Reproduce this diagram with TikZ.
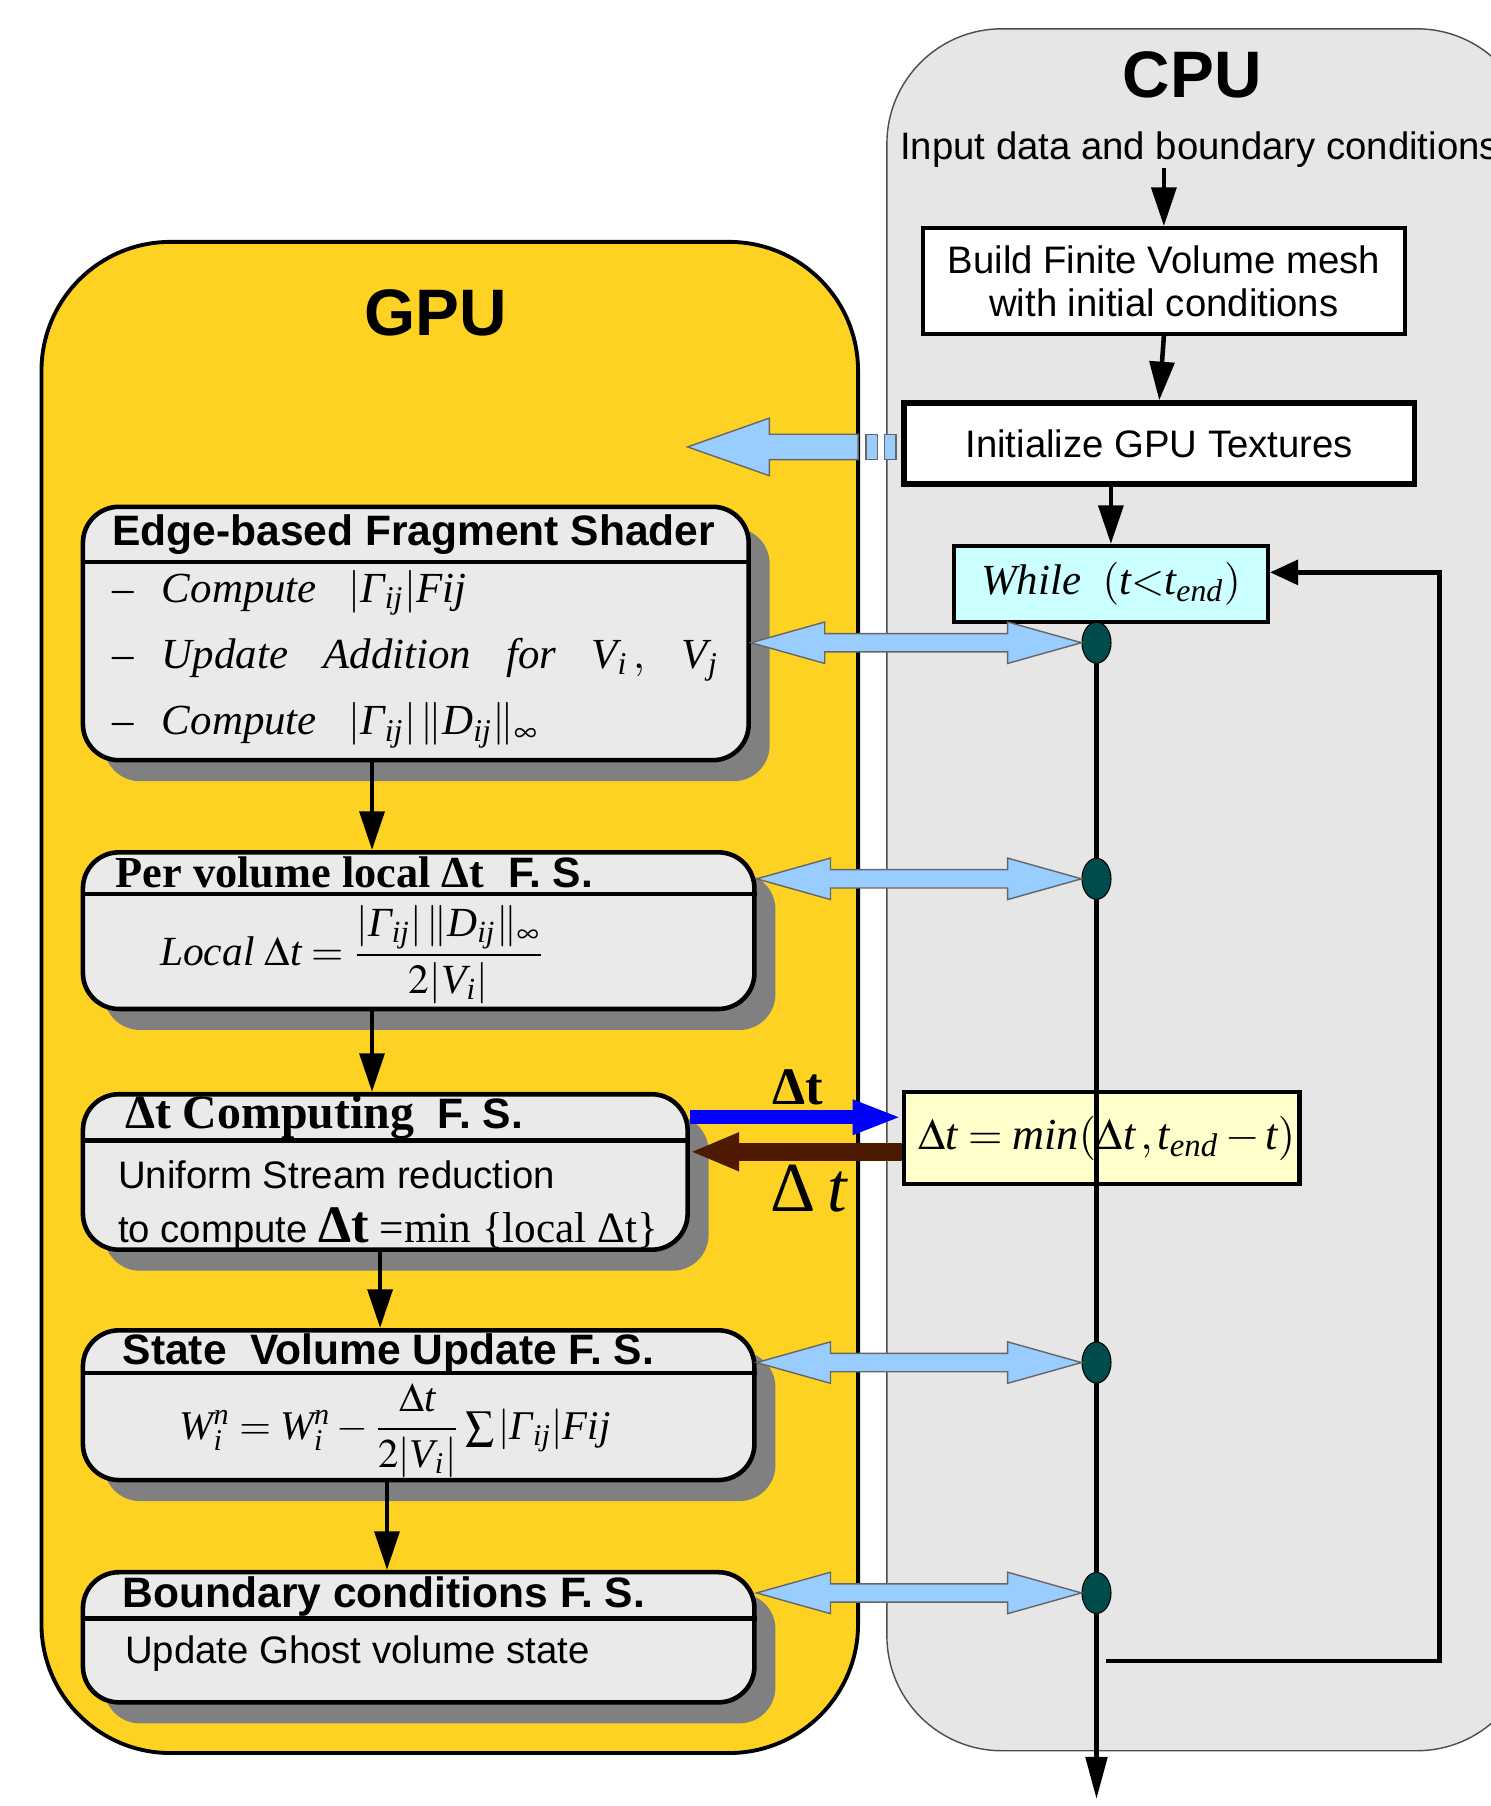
\documentclass[tikz,border=0pt]{standalone}
\usepackage{amsmath}
\usepackage{mathptmx}
\usepackage{fontspec}
\setmainfont{Liberation Serif}
\setsansfont{Liberation Sans}
\usetikzlibrary{arrows.meta,calc,fit,shapes.geometric,shadows}

\definecolor{ouro}{RGB}{253,210,35}
\definecolor{cinzacpu}{RGB}{230,230,230}
\definecolor{marmore}{RGB}{234,234,234}
\definecolor{azulclaro}{RGB}{153,204,255}
\definecolor{ciano}{RGB}{204,255,255}
\definecolor{amarelo}{RGB}{255,255,204}
\definecolor{marrom}{RGB}{77,25,0}
\definecolor{petroleo}{RGB}{0,76,76}

% letras "de formula" (Times italico)
\newcommand{\mi}[1]{\text{\rmfamily\itshape #1}}

% seta dupla larga entre dois pontos na horizontal
\newcommand{\dblarrow}[2]{%
  \draw[setadupla] let \p1=(#1), \p2=(#2) in
    (\x1,\y1) -- (\x1+21pt,\y1+5.9pt) -- (\x1+21pt,\y1+2.6pt) -- (\x2-21pt,\y1+2.6pt)
    -- (\x2-21pt,\y1+5.9pt) -- (\x2,\y1) -- (\x2-21pt,\y1-5.9pt) -- (\x2-21pt,\y1-2.6pt)
    -- (\x1+21pt,\y1-2.6pt) -- (\x1+21pt,\y1-5.9pt) -- cycle;}

\tikzset{
  tit/.style={font=\sffamily\bfseries\fontsize{12.1}{14}\selectfont, anchor=west, inner sep=0},
  corpo/.style={font=\sffamily\fontsize{10.9}{12.2}\selectfont},
  mt/.style={font=\rmfamily\itshape\fontsize{12.2}{14}\selectfont, anchor=west, inner sep=0},
  gpubox/.style={draw, line width=1.3pt, rounded corners=3.6mm, fill=marmore, inner sep=0,
    drop shadow={shadow xshift=2.1mm, shadow yshift=-2.1mm, fill=gray, opacity=1}},
  cpubox/.style={draw, line width=1.1pt, fill=white, inner sep=0},
  seta/.style={line width=1.3pt, -{Triangle[length=11pt,width=7pt]}},
  setadupla/.style={fill=azulclaro, draw=black!60, line width=0.4pt},
  ponto/.style={ellipse, draw=black, line width=0.3pt, fill=petroleo, minimum width=2.9mm,
    minimum height=4.1mm, inner sep=0},
}

\begin{document}
\begin{tikzpicture}[x=0.11515mm, y=-0.11515mm]

    \useasboundingbox (0,0) rectangle (1294,1568);

    % colunas das setas da GPU
    \coordinate (colA) at (323,0);
    \coordinate (colB) at (330,0);
    \coordinate (colC) at (336,0);

    % painel da GPU
    \node[draw, line width=1.1pt, fill=ouro, rounded corners=12.9mm, inner sep=0,
      fit={(36,210) (745,1522)}] (gpu) {};
    \node[font=\sffamily\bfseries\fontsize{18.7}{22}\selectfont] (gputit) at (378,272) {GPU};

    % painel da CPU
    \node[draw=black!70, line width=0.4pt, fill=cinzacpu, rounded corners=11.5mm, inner sep=0,
      fit={(770,25) (1330,1520)}] (cpu) {};
    \node[font=\sffamily\bfseries\fontsize{18.7}{22}\selectfont] (cputit) at (1035,65) {CPU};
    \node[corpo, anchor=west, inner sep=0] (entrada) at (781,130) {Input data and boundary conditions};

    % caixas da CPU
    \node[cpubox, fit={(801,198) (1220,290)}] (malha) {};
    \node[corpo, align=center] (malhatxt) at (malha.center) {Build Finite Volume mesh\\ with initial conditions};
    \node[cpubox, line width=1.6pt, fit={(785,350) (1228,420)}] (init) {};
    \node[corpo] (inittxt) at (init.center) {Initialize GPU Textures};
    \node[cpubox, fill=ciano, fit={(828,474) (1101,540)}] (while) {};
    \node[mt, anchor=center] (whiletxt) at (while.center)
      {$\mi{While}\ \ (\mi{t}{<}\mi{t}_{\mi{end}})$};
    \node[cpubox, fill=amarelo, line width=1.3pt, fit={(785,948) (1128,1028)}] (dtmin) {};
    \node[mt, anchor=center, font=\fontsize{12.6}{15}\selectfont] (dtmintxt) at ([xshift=1.5pt]dtmin.center)
      {$\Delta\mi{t}=\mi{min}(\Delta\mi{t}\,,\mi{t}_{\mi{end}}-\mi{t})$};

    \draw[seta] (malha.north |- entrada.south) -- (malha.north);
    \draw[seta] (malha.south) -- (init.north);
    \draw[seta] (init.south -| while.north) -- (while.north);

    % seta larga para a GPU
    \draw[setadupla] (745,377) -- (668,377) -- (668,363) -- (597,388) -- (668,413)
      -- (668,399) -- (745,399) -- cycle;
    \draw[setadupla] (752,377) rectangle (762,399);
    \draw[setadupla] (768,377) rectangle (778,399);

    % caixas da GPU
    \node[gpubox, fit={(72,440) (650,660)}] (edge) {};
    \node[gpubox, fit={(72,740) (655,876)}] (pervol) {};
    \node[gpubox, fit={(72,950) (597,1085)}] (reduz) {};
    \node[gpubox, fit={(72,1155) (655,1285)}] (state) {};
    \node[gpubox, fit={(72,1365) (655,1478)}] (bound) {};

    % linhas de cabecalho
    \draw[line width=1.3pt] (edge.west |- 0,488) -- (edge.east |- 0,488);
    \draw[line width=1.3pt] (pervol.west |- 0,776) -- (pervol.east |- 0,776);
    \draw[line width=1.3pt] (reduz.west |- 0,990) -- (reduz.east |- 0,990);
    \draw[line width=1.3pt] (state.west |- 0,1192) -- (state.east |- 0,1192);
    \draw[line width=1.3pt] (bound.west |- 0,1405) -- (bound.east |- 0,1405);

    % textos
    \node[tit] (edgetit) at (97,464) {Edge-based Fragment Shader};
    \node[mt] (edge1) at (97,515)
      {{\upshape –}\hspace{8pt}Compute\hspace{9pt}$|\mi{Γ}_{\mi{ij}}|\mi{Fij}$};
    \node[mt] (edge2) at (97,573)
      {{\upshape –}\hspace{8pt}Update\hspace{10pt}Addition\hspace{10pt}for\hspace{10pt}$\mi{V}_{\mi{i}}\,,\ \ \ \mi{V}_{\mi{j}}$};
    \node[mt] (edge3) at (97,630)
      {{\upshape –}\hspace{8pt}Compute\hspace{9pt}$|\mi{Γ}_{\mi{ij}}|\,\|\mi{D}_{\mi{ij}}\|_{\infty}$};

    \node[tit] (pervoltit) at (100,757)
      {{\rmfamily\bfseries\fontsize{12.6}{14}\selectfont Per volume local Δt}\ \ F. S.};
    \node[mt, anchor=center, font=\fontsize{11.8}{14}\selectfont] (pervolf) at (306,829)
      {$\mi{Local}\ \Delta\mi{t}=\dfrac{|\mi{Γ}_{\mi{ij}}|\,\|\mi{D}_{\mi{ij}}\|_{\infty}}{2|\mi{V}_{\mi{i}}|}$};

    \node[tit] (reduztit) at (108,970)
      {{\rmfamily\bfseries\fontsize{13.6}{15}\selectfont Δt Computing}\ \ F. S.};
    \node[corpo, anchor=west, inner sep=0] (reduz1) at (102,1020) {Uniform Stream reduction};
    \node[corpo, anchor=west, inner sep=0] (reduz2) at (102,1067)
      {to compute {\rmfamily\bfseries\fontsize{15}{17}\selectfont Δt} {\rmfamily\fontsize{12.3}{14}\selectfont =min \{local Δt\}}};

    \node[tit] (statetit) at (106,1175) {State\ \ Volume Update F. S.};
    \node[mt, anchor=center, font=\fontsize{11.6}{14}\selectfont] (statef) at (343,1242)
      {$\mi{W}^{\mi{n}}_{\mi{i}}=\mi{W}^{\mi{n}}_{\mi{i}}-\dfrac{\Delta\mi{t}}{2|\mi{V}_{\mi{i}}|}\sum|\mi{Γ}_{\mi{ij}}|\mi{Fij}$};

    \node[tit] (boundtit) at (106,1386) {Boundary conditions F. S.};
    \node[corpo, anchor=west, inner sep=0] (bound1) at (108,1436) {Update Ghost volume state};

    % fluxo na GPU
    \draw[seta] (edge.south -| colA) -- (pervol.north -| colA);
    \draw[seta] (pervol.south -| colA) -- (reduz.north -| colA);
    \draw[seta] (reduz.south -| colB) -- (state.north -| colB);
    \draw[seta] (state.south -| colC) -- (bound.north -| colC);

    % troca do passo de tempo
    \draw[blue, line width=4pt, -{Triangle[length=14pt,width=9pt]}] (reduz.east |- 0,970) -- (dtmin.west |- 0,970);
    \draw[marrom, line width=5pt, -{Triangle[length=14pt,width=10pt]}] (dtmin.west |- 0,1000) -- (reduz.east |- 0,1000);
    \node[font=\bfseries\fontsize{15}{17}\selectfont] (dtA) at (693,944) {Δt};
    \node[font=\rmfamily\fontsize{20}{22}\selectfont] (dtB) at (702,1032) {Δ\,\itshape t};

    % linha do tempo e laco
    \coordinate (fim) at (952,1562);
    \coordinate (lacoA) at (960,1442);
    \coordinate (lacoB) at (1250,1442);
    \draw[line width=1.4pt, -{Triangle[length=12pt,width=6pt]}] (while.south -| fim) -- (fim);
    \draw[line width=1.3pt, -{Triangle[length=8pt,width=7pt]}] (lacoA) -- (lacoB) |- ([yshift=3.3pt]while.east);

    % pontos de sincronizacao
    \foreach \y/\n in {558/d1, 763/d2, 1183/d3, 1383/d4}
      \node[ponto] (\n) at (952,\y) {};

    \dblarrow{edge.east |- d1}{d1.west}
    \dblarrow{pervol.east |- d2}{d2.west}
    \dblarrow{state.east |- d3}{d3.west}
    \dblarrow{bound.east |- d4}{d4.west}

\end{tikzpicture}
\end{document}
